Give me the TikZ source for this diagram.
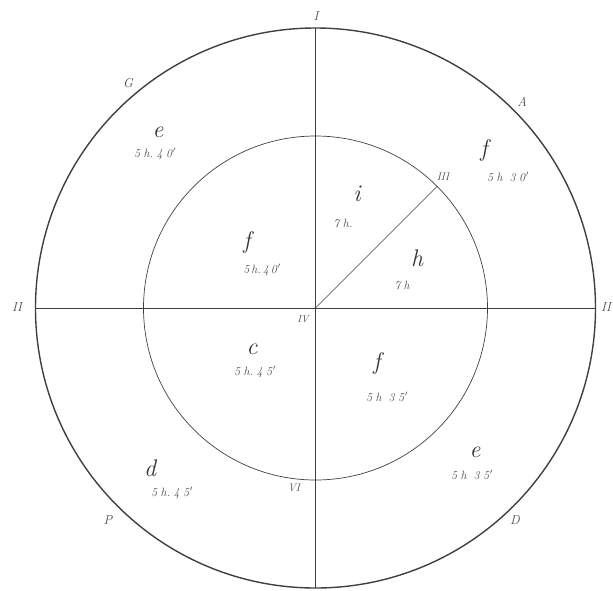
\documentclass[tikz,border=0pt]{standalone}
\usetikzlibrary{calc}
\newcommand\kk{\kern3.5pt}
\begin{document}
\begin{tikzpicture}[x=1pt,y=-1pt,
  ink/.style={draw=black!75},
  big/.style={text=black!80,font=\itshape\fontsize{24}{24}\selectfont,inner sep=0pt},
  small/.style={text=black!70,font=\itshape\fontsize{12}{12}\selectfont,inner sep=0pt},
  num/.style={text=black!70,font=\itshape\fontsize{13}{13}\selectfont,inner sep=0pt}]
\useasboundingbox (0,0) rectangle (613,590);
\coordinate (O) at (315.5,308);
\coordinate (T) at (315.5,28);
\coordinate (B) at (315.5,588);
\coordinate (L) at (35.5,308);
\coordinate (R) at (595.5,308);
\coordinate (III) at ($(O)+(121.6,-121.6)$);
\draw[ink,line width=1.4pt] (O) circle[radius=280];
\draw[ink,line width=0.7pt] (O) circle[radius=172];
\draw[ink,line width=0.7pt] (T) -- (B);
\draw[ink,line width=0.7pt] (L) -- (R);
\draw[ink,line width=0.6pt] (O) -- (III);
% roman numerals / letters
\node[num] (nI) at (316,16) {I};
\node[num] (nIIl) at (17,307) {II};
\node[num] (nIIr) at (606,307) {II};
\node[num,font=\itshape\fontsize{11}{11}\selectfont] (nIII) at (443,177) {III};
\node[num,font=\itshape\fontsize{10}{10}\selectfont] (nIV) at (303,319) {IV};
\node[num,font=\itshape\fontsize{11}{11}\selectfont] (nVI) at (294,488) {VI};
\node[num] (nG) at (128,83) {G};
\node[num] (nA) at (522,102) {A};
\node[num] (nD) at (515,520) {D};
\node[num] (nP) at (108,520) {P};
% outer ring
\node[big] (e1) at (158,132) {e};
\node[small] (e1t) at (155,154) {5\kk h.\kk 4\kk 0\kern1pt$'$};
\node[big] (f1) at (484,150) {f};
\node[small] (f1t) at (508,177) {5\kk h\kk\kk 3\kk 0\kern1pt$'$};
\node[big] (e2) at (475,452) {e};
\node[small] (e2t) at (472,475) {5\kk h\kk\kk 3\kk 5\kern1pt$'$};
\node[big] (d1) at (150,468) {d};
\node[small] (d1t) at (172,493) {5\kk h.\kk 4\kk 5\kern1pt$'$};
% inner circle
\node[big] (i1) at (357,194) {i};
\node[small] (i1t) at (343,223) {7\kk h.};
\node[big] (h1) at (417,258) {h};
\node[small] (h1t) at (402,285) {7\kk h};
\node[big] (f2) at (247,242) {f};
\node[small] (f2t) at (262,270) {5\kern2pt h.\kern2pt 4\kern2pt 0\kern1pt$'$};
\node[big] (c1) at (252,349) {c};
\node[small] (c1t) at (255,372) {5\kk h.\kk 4\kk 5\kern1pt$'$};
\node[big] (f3) at (377,363) {f};
\node[small] (f3t) at (387,397) {5\kk h\kk\kk 3\kk 5\kern1pt$'$};
\end{tikzpicture}
\end{document}
